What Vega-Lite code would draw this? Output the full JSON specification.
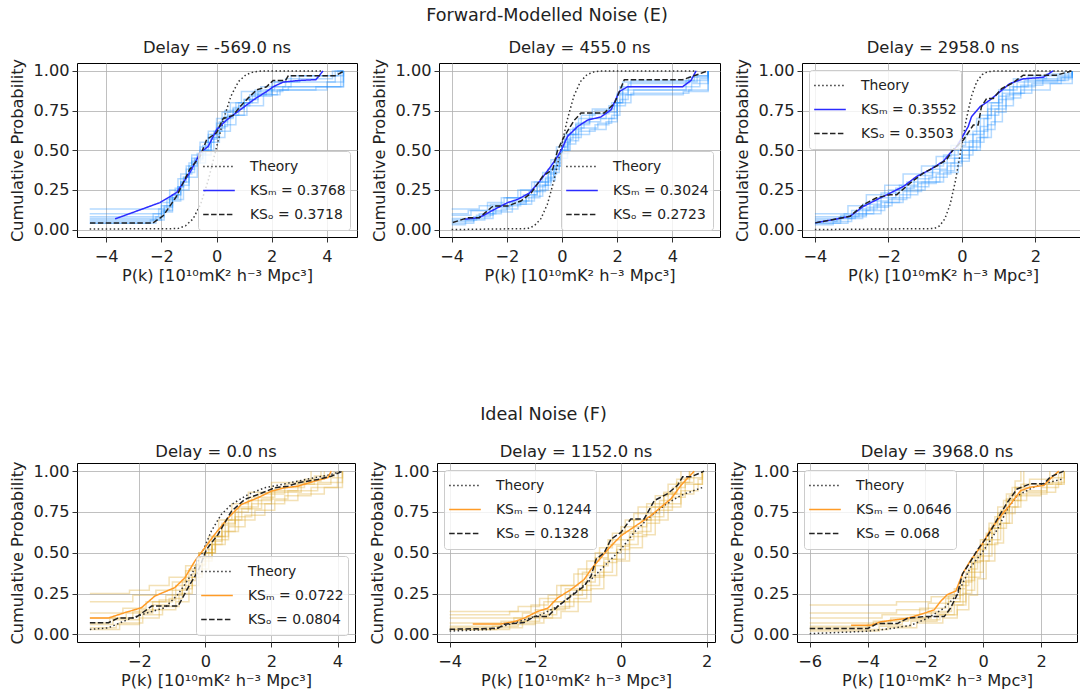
{
"$schema": "https://vega.github.io/schema/vega-lite/v6.json",
"background": "white",
"padding": {"left": 9, "top": 6, "right": 0, "bottom": 0},
"datasets": {
"c": [
{"p":1,"k":"T","x":-4.6,"y":0.003},{"p":1,"k":"T","x":-1.41,"y":0.006},{"p":1,"k":"T","x":-1.13,"y":0.023},{"p":1,"k":"T","x":-0.855,"y":0.067},{"p":1,"k":"T","x":-0.58,"y":0.159},{"p":1,"k":"T","x":-0.305,"y":0.309},{"p":1,"k":"T","x":-0.03,"y":0.5},{"p":1,"k":"T","x":0.245,"y":0.691},{"p":1,"k":"T","x":0.52,"y":0.841},{"p":1,"k":"T","x":0.795,"y":0.933},{"p":1,"k":"T","x":1.07,"y":0.977},{"p":1,"k":"T","x":1.345,"y":0.994},{"p":1,"k":"T","x":1.62,"y":0.999},{"p":1,"k":"T","x":3.8,"y":1.0},
{"p":1,"k":"M","x":-3.68,"y":0.067},{"p":1,"k":"M","x":-2.05,"y":0.17},{"p":1,"k":"M","x":-1.45,"y":0.233},{"p":1,"k":"M","x":-0.97,"y":0.358},{"p":1,"k":"M","x":-0.6,"y":0.483},{"p":1,"k":"M","x":-0.3,"y":0.525},{"p":1,"k":"M","x":0,"y":0.63},{"p":1,"k":"M","x":0.36,"y":0.69},{"p":1,"k":"M","x":0.85,"y":0.754},{"p":1,"k":"M","x":1.33,"y":0.817},{"p":1,"k":"M","x":1.81,"y":0.87},{"p":1,"k":"M","x":2.05,"y":0.9},{"p":1,"k":"M","x":2.42,"y":0.93},{"p":1,"k":"M","x":3.0,"y":0.94},{"p":1,"k":"M","x":3.6,"y":0.945},{"p":1,"k":"M","x":3.86,"y":1.0},
{"p":1,"k":"O","x":-4.59,"y":0.042},{"p":1,"k":"O","x":-2.3,"y":0.042},{"p":1,"k":"O","x":-1.93,"y":0.088},{"p":1,"k":"O","x":-1.45,"y":0.21},{"p":1,"k":"O","x":-0.97,"y":0.38},{"p":1,"k":"O","x":-0.6,"y":0.46},{"p":1,"k":"O","x":-0.36,"y":0.567},{"p":1,"k":"O","x":0,"y":0.61},{"p":1,"k":"O","x":0.24,"y":0.7},{"p":1,"k":"O","x":0.6,"y":0.72},{"p":1,"k":"O","x":0.85,"y":0.775},{"p":1,"k":"O","x":1.15,"y":0.83},{"p":1,"k":"O","x":1.45,"y":0.88},{"p":1,"k":"O","x":1.81,"y":0.9},{"p":1,"k":"O","x":2.05,"y":0.94},{"p":1,"k":"O","x":2.5,"y":0.94},{"p":1,"k":"O","x":2.6,"y":0.97},{"p":1,"k":"O","x":4.3,"y":0.97},{"p":1,"k":"O","x":4.63,"y":1.0},

{"p":2,"k":"T","x":-4,"y":0.0},{"p":2,"k":"T","x":-1.25,"y":0.006},{"p":2,"k":"T","x":-1.01,"y":0.023},{"p":2,"k":"T","x":-0.77,"y":0.067},{"p":2,"k":"T","x":-0.53,"y":0.159},{"p":2,"k":"T","x":-0.29,"y":0.309},{"p":2,"k":"T","x":-0.05,"y":0.5},{"p":2,"k":"T","x":0.19,"y":0.691},{"p":2,"k":"T","x":0.43,"y":0.841},{"p":2,"k":"T","x":0.67,"y":0.933},{"p":2,"k":"T","x":0.91,"y":0.977},{"p":2,"k":"T","x":1.15,"y":0.994},{"p":2,"k":"T","x":1.39,"y":0.999},{"p":2,"k":"T","x":4.9,"y":1.0},
{"p":2,"k":"M","x":-3.54,"y":0.065},{"p":2,"k":"M","x":-3.0,"y":0.075},{"p":2,"k":"M","x":-2.45,"y":0.127},{"p":2,"k":"M","x":-1.97,"y":0.17},{"p":2,"k":"M","x":-1.61,"y":0.19},{"p":2,"k":"M","x":-1.18,"y":0.23},{"p":2,"k":"M","x":-0.76,"y":0.315},{"p":2,"k":"M","x":-0.4,"y":0.4},{"p":2,"k":"M","x":-0.16,"y":0.46},{"p":2,"k":"M","x":0,"y":0.51},{"p":2,"k":"M","x":0.2,"y":0.587},{"p":2,"k":"M","x":0.57,"y":0.65},{"p":2,"k":"M","x":0.93,"y":0.69},{"p":2,"k":"M","x":1.41,"y":0.71},{"p":2,"k":"M","x":1.78,"y":0.755},{"p":2,"k":"M","x":2.08,"y":0.87},{"p":2,"k":"M","x":2.38,"y":0.9},{"p":2,"k":"M","x":4.37,"y":0.9},{"p":2,"k":"M","x":4.68,"y":0.94},{"p":2,"k":"M","x":4.86,"y":1.0},
{"p":2,"k":"O","x":-3.96,"y":0.044},{"p":2,"k":"O","x":-3.42,"y":0.075},{"p":2,"k":"O","x":-3.0,"y":0.075},{"p":2,"k":"O","x":-2.5,"y":0.148},{"p":2,"k":"O","x":-1.97,"y":0.148},{"p":2,"k":"O","x":-1.49,"y":0.18},{"p":2,"k":"O","x":-1.12,"y":0.23},{"p":2,"k":"O","x":-0.7,"y":0.336},{"p":2,"k":"O","x":-0.34,"y":0.378},{"p":2,"k":"O","x":-0.16,"y":0.5},{"p":2,"k":"O","x":0.08,"y":0.587},{"p":2,"k":"O","x":0.45,"y":0.69},{"p":2,"k":"O","x":0.69,"y":0.735},{"p":2,"k":"O","x":1.53,"y":0.735},{"p":2,"k":"O","x":1.9,"y":0.795},{"p":2,"k":"O","x":2.26,"y":0.944},{"p":2,"k":"O","x":4.37,"y":0.944},{"p":2,"k":"O","x":4.68,"y":0.963},{"p":2,"k":"O","x":5.28,"y":1.0},

{"p":3,"k":"T","x":-4,"y":0.0},{"p":3,"k":"T","x":-0.755,"y":0.006},{"p":3,"k":"T","x":-0.61,"y":0.023},{"p":3,"k":"T","x":-0.465,"y":0.067},{"p":3,"k":"T","x":-0.32,"y":0.159},{"p":3,"k":"T","x":-0.175,"y":0.309},{"p":3,"k":"T","x":-0.03,"y":0.5},{"p":3,"k":"T","x":0.115,"y":0.691},{"p":3,"k":"T","x":0.26,"y":0.841},{"p":3,"k":"T","x":0.405,"y":0.933},{"p":3,"k":"T","x":0.55,"y":0.977},{"p":3,"k":"T","x":0.695,"y":0.994},{"p":3,"k":"T","x":0.84,"y":0.999},{"p":3,"k":"T","x":3.0,"y":1.0},
{"p":3,"k":"M","x":-3.99,"y":0.042},{"p":3,"k":"M","x":-3.49,"y":0.063},{"p":3,"k":"M","x":-3.04,"y":0.084},{"p":3,"k":"M","x":-2.68,"y":0.146},{"p":3,"k":"M","x":-2.32,"y":0.188},{"p":3,"k":"M","x":-1.95,"y":0.23},{"p":3,"k":"M","x":-1.59,"y":0.272},{"p":3,"k":"M","x":-1.23,"y":0.335},{"p":3,"k":"M","x":-0.87,"y":0.377},{"p":3,"k":"M","x":-0.51,"y":0.43},{"p":3,"k":"M","x":-0.33,"y":0.48},{"p":3,"k":"M","x":-0.14,"y":0.523},{"p":3,"k":"M","x":0.17,"y":0.649},{"p":3,"k":"M","x":0.26,"y":0.711},{"p":3,"k":"M","x":0.49,"y":0.774},{"p":3,"k":"M","x":0.76,"y":0.816},{"p":3,"k":"M","x":1.03,"y":0.868},{"p":3,"k":"M","x":1.3,"y":0.92},{"p":3,"k":"M","x":1.67,"y":0.95},{"p":3,"k":"M","x":2.21,"y":0.96},{"p":3,"k":"M","x":2.48,"y":1.0},
{"p":3,"k":"O","x":-3.99,"y":0.042},{"p":3,"k":"O","x":-3.04,"y":0.084},{"p":3,"k":"O","x":-2.68,"y":0.157},{"p":3,"k":"O","x":-2.32,"y":0.2},{"p":3,"k":"O","x":-1.95,"y":0.22},{"p":3,"k":"O","x":-1.77,"y":0.22},{"p":3,"k":"O","x":-1.41,"y":0.293},{"p":3,"k":"O","x":-1.05,"y":0.356},{"p":3,"k":"O","x":-0.69,"y":0.4},{"p":3,"k":"O","x":-0.42,"y":0.44},{"p":3,"k":"O","x":-0.24,"y":0.504},{"p":3,"k":"O","x":0.04,"y":0.565},{"p":3,"k":"O","x":0.31,"y":0.659},{"p":3,"k":"O","x":0.44,"y":0.659},{"p":3,"k":"O","x":0.53,"y":0.774},{"p":3,"k":"O","x":0.67,"y":0.826},{"p":3,"k":"O","x":0.85,"y":0.826},{"p":3,"k":"O","x":1.08,"y":0.889},{"p":3,"k":"O","x":1.35,"y":0.92},{"p":3,"k":"O","x":1.67,"y":0.973},{"p":3,"k":"O","x":2.57,"y":0.973},{"p":3,"k":"O","x":2.98,"y":1.0},

{"p":4,"k":"T","x":-3.5,"y":0.03},{"p":4,"k":"T","x":-2.94,"y":0.04},{"p":4,"k":"T","x":-2.24,"y":0.1},{"p":4,"k":"T","x":-1.74,"y":0.133},{"p":4,"k":"T","x":-1.23,"y":0.163},{"p":4,"k":"T","x":-0.83,"y":0.245},{"p":4,"k":"T","x":-0.42,"y":0.367},{"p":4,"k":"T","x":-0.12,"y":0.49},{"p":4,"k":"T","x":0.18,"y":0.633},{"p":4,"k":"T","x":0.48,"y":0.735},{"p":4,"k":"T","x":0.79,"y":0.796},{"p":4,"k":"T","x":1.29,"y":0.857},{"p":4,"k":"T","x":1.79,"y":0.898},{"p":4,"k":"T","x":2.3,"y":0.918},{"p":4,"k":"T","x":2.8,"y":0.939},{"p":4,"k":"T","x":3.31,"y":0.96},{"p":4,"k":"T","x":3.81,"y":0.98},{"p":4,"k":"T","x":4.11,"y":1.0},
{"p":4,"k":"M","x":-3.5,"y":0.1},{"p":4,"k":"M","x":-2.94,"y":0.1},{"p":4,"k":"M","x":-2.44,"y":0.133},{"p":4,"k":"M","x":-1.94,"y":0.163},{"p":4,"k":"M","x":-1.53,"y":0.235},{"p":4,"k":"M","x":-0.93,"y":0.286},{"p":4,"k":"M","x":-0.62,"y":0.347},{"p":4,"k":"M","x":-0.32,"y":0.449},{"p":4,"k":"M","x":-0.02,"y":0.53},{"p":4,"k":"M","x":0.28,"y":0.612},{"p":4,"k":"M","x":0.69,"y":0.714},{"p":4,"k":"M","x":1.09,"y":0.796},{"p":4,"k":"M","x":1.59,"y":0.837},{"p":4,"k":"M","x":2.0,"y":0.878},{"p":4,"k":"M","x":2.4,"y":0.898},{"p":4,"k":"M","x":2.8,"y":0.908},{"p":4,"k":"M","x":3.31,"y":0.939},{"p":4,"k":"M","x":3.71,"y":0.96},{"p":4,"k":"M","x":3.81,"y":1.0},
{"p":4,"k":"O","x":-3.5,"y":0.071},{"p":4,"k":"O","x":-2.94,"y":0.071},{"p":4,"k":"O","x":-2.64,"y":0.1},{"p":4,"k":"O","x":-2.13,"y":0.1},{"p":4,"k":"O","x":-1.63,"y":0.173},{"p":4,"k":"O","x":-0.83,"y":0.173},{"p":4,"k":"O","x":-0.47,"y":0.306},{"p":4,"k":"O","x":-0.22,"y":0.388},{"p":4,"k":"O","x":0.03,"y":0.52},{"p":4,"k":"O","x":0.38,"y":0.612},{"p":4,"k":"O","x":0.79,"y":0.755},{"p":4,"k":"O","x":1.19,"y":0.827},{"p":4,"k":"O","x":1.59,"y":0.857},{"p":4,"k":"O","x":2.1,"y":0.898},{"p":4,"k":"O","x":2.5,"y":0.908},{"p":4,"k":"O","x":2.8,"y":0.929},{"p":4,"k":"O","x":3.4,"y":0.949},{"p":4,"k":"O","x":3.81,"y":0.969},{"p":4,"k":"O","x":4.16,"y":1.0},

{"p":5,"k":"T","x":-4,"y":0.02},{"p":5,"k":"T","x":-3.03,"y":0.03},{"p":5,"k":"T","x":-2.64,"y":0.058},{"p":5,"k":"T","x":-2.26,"y":0.089},{"p":5,"k":"T","x":-1.87,"y":0.12},{"p":5,"k":"T","x":-1.48,"y":0.171},{"p":5,"k":"T","x":-1.09,"y":0.254},{"p":5,"k":"T","x":-0.7,"y":0.336},{"p":5,"k":"T","x":-0.31,"y":0.439},{"p":5,"k":"T","x":0,"y":0.522},{"p":5,"k":"T","x":0.31,"y":0.625},{"p":5,"k":"T","x":0.62,"y":0.707},{"p":5,"k":"T","x":1.01,"y":0.79},{"p":5,"k":"T","x":1.4,"y":0.852},{"p":5,"k":"T","x":1.71,"y":0.882},{"p":5,"k":"T","x":1.94,"y":0.903},
{"p":5,"k":"M","x":-3.46,"y":0.064},{"p":5,"k":"M","x":-2.79,"y":0.064},{"p":5,"k":"M","x":-2.49,"y":0.078},{"p":5,"k":"M","x":-2.26,"y":0.099},{"p":5,"k":"M","x":-1.95,"y":0.14},{"p":5,"k":"M","x":-1.71,"y":0.16},{"p":5,"k":"M","x":-1.48,"y":0.223},{"p":5,"k":"M","x":-1.17,"y":0.274},{"p":5,"k":"M","x":-0.86,"y":0.336},{"p":5,"k":"M","x":-0.7,"y":0.398},{"p":5,"k":"M","x":-0.47,"y":0.47},{"p":5,"k":"M","x":-0.23,"y":0.542},{"p":5,"k":"M","x":0,"y":0.604},{"p":5,"k":"M","x":0.23,"y":0.645},{"p":5,"k":"M","x":0.47,"y":0.687},{"p":5,"k":"M","x":0.7,"y":0.728},{"p":5,"k":"M","x":0.93,"y":0.779},{"p":5,"k":"M","x":1.17,"y":0.831},{"p":5,"k":"M","x":1.4,"y":0.913},{"p":5,"k":"M","x":1.71,"y":1.0},
{"p":5,"k":"O","x":-4,"y":0.031},{"p":5,"k":"O","x":-2.87,"y":0.037},{"p":5,"k":"O","x":-2.72,"y":0.062},{"p":5,"k":"O","x":-2.26,"y":0.072},{"p":5,"k":"O","x":-2.02,"y":0.109},{"p":5,"k":"O","x":-1.71,"y":0.109},{"p":5,"k":"O","x":-1.48,"y":0.171},{"p":5,"k":"O","x":-1.17,"y":0.233},{"p":5,"k":"O","x":-0.86,"y":0.295},{"p":5,"k":"O","x":-0.7,"y":0.357},{"p":5,"k":"O","x":-0.58,"y":0.46},{"p":5,"k":"O","x":-0.39,"y":0.501},{"p":5,"k":"O","x":-0.23,"y":0.584},{"p":5,"k":"O","x":0,"y":0.625},{"p":5,"k":"O","x":0.23,"y":0.707},{"p":5,"k":"O","x":0.54,"y":0.707},{"p":5,"k":"O","x":0.78,"y":0.82},{"p":5,"k":"O","x":1.09,"y":0.862},{"p":5,"k":"O","x":1.32,"y":0.913},{"p":5,"k":"O","x":1.44,"y":0.965},{"p":5,"k":"O","x":1.63,"y":0.965},{"p":5,"k":"O","x":1.94,"y":1.0},

{"p":6,"k":"T","x":-6,"y":0.004},{"p":6,"k":"T","x":-4,"y":0.019},{"p":6,"k":"T","x":-3.19,"y":0.035},{"p":6,"k":"T","x":-2.5,"y":0.056},{"p":6,"k":"T","x":-1.93,"y":0.098},{"p":6,"k":"T","x":-1.35,"y":0.161},{"p":6,"k":"T","x":-0.9,"y":0.244},{"p":6,"k":"T","x":-0.44,"y":0.411},{"p":6,"k":"T","x":0.02,"y":0.516},{"p":6,"k":"T","x":0.48,"y":0.641},{"p":6,"k":"T","x":0.83,"y":0.766},{"p":6,"k":"T","x":1.17,"y":0.85},{"p":6,"k":"T","x":1.75,"y":0.902},{"p":6,"k":"T","x":2.32,"y":0.933},{"p":6,"k":"T","x":2.78,"y":0.954},
{"p":6,"k":"M","x":-4.57,"y":0.056},{"p":6,"k":"M","x":-3.88,"y":0.056},{"p":6,"k":"M","x":-3.54,"y":0.077},{"p":6,"k":"M","x":-3.08,"y":0.088},{"p":6,"k":"M","x":-2.62,"y":0.098},{"p":6,"k":"M","x":-2.05,"y":0.129},{"p":6,"k":"M","x":-1.7,"y":0.15},{"p":6,"k":"M","x":-1.47,"y":0.203},{"p":6,"k":"M","x":-1.24,"y":0.244},{"p":6,"k":"M","x":-0.95,"y":0.265},{"p":6,"k":"M","x":-0.72,"y":0.37},{"p":6,"k":"M","x":-0.44,"y":0.453},{"p":6,"k":"M","x":-0.09,"y":0.537},{"p":6,"k":"M","x":0.25,"y":0.641},{"p":6,"k":"M","x":0.6,"y":0.724},{"p":6,"k":"M","x":0.94,"y":0.797},{"p":6,"k":"M","x":1.29,"y":0.881},{"p":6,"k":"M","x":1.63,"y":0.902},{"p":6,"k":"M","x":2.09,"y":0.912},{"p":6,"k":"M","x":2.32,"y":0.954},{"p":6,"k":"M","x":2.61,"y":1.0},
{"p":6,"k":"O","x":-6,"y":0.035},{"p":6,"k":"O","x":-4,"y":0.035},{"p":6,"k":"O","x":-3.65,"y":0.067},{"p":6,"k":"O","x":-2.96,"y":0.067},{"p":6,"k":"O","x":-2.62,"y":0.098},{"p":6,"k":"O","x":-2.05,"y":0.109},{"p":6,"k":"O","x":-1.35,"y":0.109},{"p":6,"k":"O","x":-1.13,"y":0.161},{"p":6,"k":"O","x":-0.9,"y":0.244},{"p":6,"k":"O","x":-0.72,"y":0.37},{"p":6,"k":"O","x":-0.49,"y":0.432},{"p":6,"k":"O","x":-0.21,"y":0.516},{"p":6,"k":"O","x":0.14,"y":0.599},{"p":6,"k":"O","x":0.48,"y":0.704},{"p":6,"k":"O","x":0.83,"y":0.808},{"p":6,"k":"O","x":1.17,"y":0.891},{"p":6,"k":"O","x":1.63,"y":0.923},{"p":6,"k":"O","x":2.09,"y":0.923},{"p":6,"k":"O","x":2.32,"y":0.965},{"p":6,"k":"O","x":2.78,"y":1.0}
],
"r": [
{"p":1,"r":1,"x":-4.6,"y":0.04},{"p":1,"r":1,"x":-2.2,"y":0.08},{"p":1,"r":1,"x":-1.9,"y":0.15},{"p":1,"r":1,"x":-1.6,"y":0.22},{"p":1,"r":1,"x":-1.3,"y":0.3},{"p":1,"r":1,"x":-1.1,"y":0.38},{"p":1,"r":1,"x":-0.9,"y":0.45},{"p":1,"r":1,"x":-0.6,"y":0.52},{"p":1,"r":1,"x":-0.2,"y":0.6},{"p":1,"r":1,"x":0.1,"y":0.68},{"p":1,"r":1,"x":0.4,"y":0.74},{"p":1,"r":1,"x":0.8,"y":0.8},{"p":1,"r":1,"x":1.3,"y":0.86},{"p":1,"r":1,"x":2.0,"y":0.93},{"p":1,"r":1,"x":4.3,"y":1.0},{"p":1,"r":1,"x":4.6,"y":1.0},
{"p":1,"r":2,"x":-4.6,"y":0.07},{"p":1,"r":2,"x":-2.0,"y":0.12},{"p":1,"r":2,"x":-1.7,"y":0.2},{"p":1,"r":2,"x":-1.4,"y":0.27},{"p":1,"r":2,"x":-1.2,"y":0.33},{"p":1,"r":2,"x":-1.0,"y":0.4},{"p":1,"r":2,"x":-0.7,"y":0.48},{"p":1,"r":2,"x":-0.4,"y":0.55},{"p":1,"r":2,"x":-0.1,"y":0.62},{"p":1,"r":2,"x":0.2,"y":0.7},{"p":1,"r":2,"x":0.6,"y":0.77},{"p":1,"r":2,"x":1.0,"y":0.82},{"p":1,"r":2,"x":1.5,"y":0.87},{"p":1,"r":2,"x":2.4,"y":0.9},{"p":1,"r":2,"x":4.5,"y":1.0},{"p":1,"r":2,"x":4.6,"y":1.0},
{"p":1,"r":3,"x":-4.6,"y":0.1},{"p":1,"r":3,"x":-1.9,"y":0.14},{"p":1,"r":3,"x":-1.6,"y":0.22},{"p":1,"r":3,"x":-1.3,"y":0.3},{"p":1,"r":3,"x":-1.0,"y":0.38},{"p":1,"r":3,"x":-0.8,"y":0.45},{"p":1,"r":3,"x":-0.5,"y":0.53},{"p":1,"r":3,"x":-0.3,"y":0.6},{"p":1,"r":3,"x":0,"y":0.67},{"p":1,"r":3,"x":0.2,"y":0.74},{"p":1,"r":3,"x":0.5,"y":0.8},{"p":1,"r":3,"x":0.9,"y":0.87},{"p":1,"r":3,"x":1.6,"y":0.9},{"p":1,"r":3,"x":2.5,"y":0.95},{"p":1,"r":3,"x":4.2,"y":1.0},{"p":1,"r":3,"x":4.6,"y":1.0},
{"p":1,"r":4,"x":-4.6,"y":0.13},{"p":1,"r":4,"x":-2.0,"y":0.17},{"p":1,"r":4,"x":-1.7,"y":0.25},{"p":1,"r":4,"x":-1.4,"y":0.32},{"p":1,"r":4,"x":-1.1,"y":0.4},{"p":1,"r":4,"x":-0.9,"y":0.47},{"p":1,"r":4,"x":-0.6,"y":0.55},{"p":1,"r":4,"x":-0.3,"y":0.62},{"p":1,"r":4,"x":0,"y":0.7},{"p":1,"r":4,"x":0.3,"y":0.75},{"p":1,"r":4,"x":0.7,"y":0.8},{"p":1,"r":4,"x":1.2,"y":0.85},{"p":1,"r":4,"x":1.8,"y":0.88},{"p":1,"r":4,"x":2.6,"y":0.9},{"p":1,"r":4,"x":4.6,"y":1.0},
{"p":1,"r":5,"x":-4.6,"y":0.05},{"p":1,"r":5,"x":-2.3,"y":0.1},{"p":1,"r":5,"x":-2.0,"y":0.15},{"p":1,"r":5,"x":-1.7,"y":0.2},{"p":1,"r":5,"x":-1.4,"y":0.27},{"p":1,"r":5,"x":-1.2,"y":0.33},{"p":1,"r":5,"x":-1.0,"y":0.42},{"p":1,"r":5,"x":-0.6,"y":0.47},{"p":1,"r":5,"x":-0.2,"y":0.55},{"p":1,"r":5,"x":0.1,"y":0.62},{"p":1,"r":5,"x":0.5,"y":0.72},{"p":1,"r":5,"x":1.0,"y":0.8},{"p":1,"r":5,"x":1.5,"y":0.85},{"p":1,"r":5,"x":2.2,"y":0.88},{"p":1,"r":5,"x":4.0,"y":0.93},{"p":1,"r":5,"x":4.6,"y":1.0},
{"p":1,"r":6,"x":-4.6,"y":0.08},{"p":1,"r":6,"x":-2.1,"y":0.13},{"p":1,"r":6,"x":-1.8,"y":0.19},{"p":1,"r":6,"x":-1.5,"y":0.26},{"p":1,"r":6,"x":-1.3,"y":0.35},{"p":1,"r":6,"x":-0.9,"y":0.43},{"p":1,"r":6,"x":-0.6,"y":0.5},{"p":1,"r":6,"x":-0.3,"y":0.58},{"p":1,"r":6,"x":0.1,"y":0.65},{"p":1,"r":6,"x":0.4,"y":0.72},{"p":1,"r":6,"x":0.8,"y":0.78},{"p":1,"r":6,"x":1.2,"y":0.84},{"p":1,"r":6,"x":2.0,"y":0.9},{"p":1,"r":6,"x":2.7,"y":0.97},{"p":1,"r":6,"x":4.4,"y":1.0},{"p":1,"r":6,"x":4.6,"y":1.0},
{"p":1,"r":7,"x":-4.6,"y":0.04},{"p":1,"r":7,"x":-2.4,"y":0.06},{"p":1,"r":7,"x":-1.9,"y":0.12},{"p":1,"r":7,"x":-1.6,"y":0.18},{"p":1,"r":7,"x":-1.3,"y":0.25},{"p":1,"r":7,"x":-1.0,"y":0.33},{"p":1,"r":7,"x":-0.7,"y":0.42},{"p":1,"r":7,"x":-0.4,"y":0.5},{"p":1,"r":7,"x":-0.1,"y":0.58},{"p":1,"r":7,"x":0.3,"y":0.66},{"p":1,"r":7,"x":0.7,"y":0.72},{"p":1,"r":7,"x":1.1,"y":0.78},{"p":1,"r":7,"x":1.7,"y":0.85},{"p":1,"r":7,"x":2.3,"y":0.88},{"p":1,"r":7,"x":3.6,"y":0.9},{"p":1,"r":7,"x":4.6,"y":1.0},
{"p":1,"r":8,"x":-4.6,"y":0.06},{"p":1,"r":8,"x":-2.0,"y":0.11},{"p":1,"r":8,"x":-1.6,"y":0.19},{"p":1,"r":8,"x":-1.2,"y":0.28},{"p":1,"r":8,"x":-1.0,"y":0.36},{"p":1,"r":8,"x":-0.8,"y":0.44},{"p":1,"r":8,"x":-0.5,"y":0.5},{"p":1,"r":8,"x":-0.2,"y":0.57},{"p":1,"r":8,"x":0,"y":0.64},{"p":1,"r":8,"x":0.3,"y":0.71},{"p":1,"r":8,"x":0.6,"y":0.76},{"p":1,"r":8,"x":1.0,"y":0.82},{"p":1,"r":8,"x":1.4,"y":0.88},{"p":1,"r":8,"x":2.1,"y":0.93},{"p":1,"r":8,"x":3.0,"y":0.97},{"p":1,"r":8,"x":4.6,"y":1.0},

{"p":2,"r":1,"x":-4,"y":0.04},{"p":2,"r":1,"x":-3.2,"y":0.08},{"p":2,"r":1,"x":-2.6,"y":0.12},{"p":2,"r":1,"x":-2,"y":0.15},{"p":2,"r":1,"x":-1.5,"y":0.18},{"p":2,"r":1,"x":-1.0,"y":0.24},{"p":2,"r":1,"x":-0.6,"y":0.32},{"p":2,"r":1,"x":-0.3,"y":0.42},{"p":2,"r":1,"x":0,"y":0.52},{"p":2,"r":1,"x":0.2,"y":0.6},{"p":2,"r":1,"x":0.5,"y":0.66},{"p":2,"r":1,"x":1.0,"y":0.7},{"p":2,"r":1,"x":1.6,"y":0.74},{"p":2,"r":1,"x":2.0,"y":0.86},{"p":2,"r":1,"x":2.4,"y":0.92},{"p":2,"r":1,"x":4.6,"y":0.96},{"p":2,"r":1,"x":5.3,"y":1.0},
{"p":2,"r":2,"x":-4,"y":0.07},{"p":2,"r":2,"x":-3.0,"y":0.1},{"p":2,"r":2,"x":-2.4,"y":0.15},{"p":2,"r":2,"x":-1.8,"y":0.18},{"p":2,"r":2,"x":-1.2,"y":0.24},{"p":2,"r":2,"x":-0.8,"y":0.3},{"p":2,"r":2,"x":-0.4,"y":0.38},{"p":2,"r":2,"x":-0.1,"y":0.48},{"p":2,"r":2,"x":0.1,"y":0.57},{"p":2,"r":2,"x":0.4,"y":0.64},{"p":2,"r":2,"x":0.8,"y":0.68},{"p":2,"r":2,"x":1.4,"y":0.7},{"p":2,"r":2,"x":1.9,"y":0.8},{"p":2,"r":2,"x":2.2,"y":0.88},{"p":2,"r":2,"x":4.5,"y":0.9},{"p":2,"r":2,"x":5.0,"y":0.95},{"p":2,"r":2,"x":5.3,"y":1.0},
{"p":2,"r":3,"x":-4,"y":0.1},{"p":2,"r":3,"x":-3.4,"y":0.12},{"p":2,"r":3,"x":-2.7,"y":0.17},{"p":2,"r":3,"x":-2.1,"y":0.2},{"p":2,"r":3,"x":-1.5,"y":0.25},{"p":2,"r":3,"x":-1.0,"y":0.3},{"p":2,"r":3,"x":-0.5,"y":0.38},{"p":2,"r":3,"x":-0.2,"y":0.46},{"p":2,"r":3,"x":0,"y":0.55},{"p":2,"r":3,"x":0.3,"y":0.63},{"p":2,"r":3,"x":0.7,"y":0.72},{"p":2,"r":3,"x":1.2,"y":0.75},{"p":2,"r":3,"x":1.8,"y":0.8},{"p":2,"r":3,"x":2.1,"y":0.9},{"p":2,"r":3,"x":2.5,"y":0.94},{"p":2,"r":3,"x":4.8,"y":0.97},{"p":2,"r":3,"x":5.3,"y":1.0},
{"p":2,"r":4,"x":-4,"y":0.13},{"p":2,"r":4,"x":-3.0,"y":0.15},{"p":2,"r":4,"x":-2.2,"y":0.2},{"p":2,"r":4,"x":-1.6,"y":0.25},{"p":2,"r":4,"x":-1.1,"y":0.3},{"p":2,"r":4,"x":-0.7,"y":0.36},{"p":2,"r":4,"x":-0.4,"y":0.44},{"p":2,"r":4,"x":-0.2,"y":0.52},{"p":2,"r":4,"x":0.1,"y":0.6},{"p":2,"r":4,"x":0.5,"y":0.67},{"p":2,"r":4,"x":1.0,"y":0.73},{"p":2,"r":4,"x":1.7,"y":0.78},{"p":2,"r":4,"x":2.0,"y":0.85},{"p":2,"r":4,"x":2.6,"y":0.88},{"p":2,"r":4,"x":4.7,"y":0.92},{"p":2,"r":4,"x":5.3,"y":1.0},
{"p":2,"r":5,"x":-4,"y":0.03},{"p":2,"r":5,"x":-3.5,"y":0.06},{"p":2,"r":5,"x":-2.8,"y":0.1},{"p":2,"r":5,"x":-2.2,"y":0.13},{"p":2,"r":5,"x":-1.6,"y":0.16},{"p":2,"r":5,"x":-1.1,"y":0.21},{"p":2,"r":5,"x":-0.7,"y":0.28},{"p":2,"r":5,"x":-0.4,"y":0.36},{"p":2,"r":5,"x":-0.1,"y":0.45},{"p":2,"r":5,"x":0.2,"y":0.54},{"p":2,"r":5,"x":0.5,"y":0.6},{"p":2,"r":5,"x":1.0,"y":0.63},{"p":2,"r":5,"x":1.6,"y":0.68},{"p":2,"r":5,"x":2.0,"y":0.78},{"p":2,"r":5,"x":2.3,"y":0.85},{"p":2,"r":5,"x":4.4,"y":0.87},{"p":2,"r":5,"x":5.3,"y":1.0},
{"p":2,"r":6,"x":-4,"y":0.06},{"p":2,"r":6,"x":-3.1,"y":0.09},{"p":2,"r":6,"x":-2.5,"y":0.14},{"p":2,"r":6,"x":-1.9,"y":0.17},{"p":2,"r":6,"x":-1.3,"y":0.22},{"p":2,"r":6,"x":-0.9,"y":0.28},{"p":2,"r":6,"x":-0.5,"y":0.35},{"p":2,"r":6,"x":-0.2,"y":0.44},{"p":2,"r":6,"x":0,"y":0.5},{"p":2,"r":6,"x":0.3,"y":0.58},{"p":2,"r":6,"x":0.7,"y":0.64},{"p":2,"r":6,"x":1.3,"y":0.67},{"p":2,"r":6,"x":1.8,"y":0.72},{"p":2,"r":6,"x":2.1,"y":0.82},{"p":2,"r":6,"x":2.4,"y":0.9},{"p":2,"r":6,"x":4.5,"y":0.94},{"p":2,"r":6,"x":5.3,"y":1.0},
{"p":2,"r":7,"x":-4,"y":0.09},{"p":2,"r":7,"x":-3.3,"y":0.12},{"p":2,"r":7,"x":-2.6,"y":0.16},{"p":2,"r":7,"x":-2.0,"y":0.2},{"p":2,"r":7,"x":-1.4,"y":0.22},{"p":2,"r":7,"x":-0.9,"y":0.27},{"p":2,"r":7,"x":-0.6,"y":0.33},{"p":2,"r":7,"x":-0.3,"y":0.4},{"p":2,"r":7,"x":-0.05,"y":0.5},{"p":2,"r":7,"x":0.2,"y":0.6},{"p":2,"r":7,"x":0.6,"y":0.7},{"p":2,"r":7,"x":1.1,"y":0.76},{"p":2,"r":7,"x":1.9,"y":0.8},{"p":2,"r":7,"x":2.2,"y":0.93},{"p":2,"r":7,"x":4.9,"y":0.97},{"p":2,"r":7,"x":5.3,"y":1.0},
{"p":2,"r":8,"x":-4,"y":0.05},{"p":2,"r":8,"x":-3.2,"y":0.07},{"p":2,"r":8,"x":-2.5,"y":0.11},{"p":2,"r":8,"x":-1.8,"y":0.16},{"p":2,"r":8,"x":-1.3,"y":0.2},{"p":2,"r":8,"x":-0.8,"y":0.25},{"p":2,"r":8,"x":-0.5,"y":0.31},{"p":2,"r":8,"x":-0.25,"y":0.4},{"p":2,"r":8,"x":0,"y":0.48},{"p":2,"r":8,"x":0.25,"y":0.56},{"p":2,"r":8,"x":0.6,"y":0.62},{"p":2,"r":8,"x":1.2,"y":0.66},{"p":2,"r":8,"x":1.7,"y":0.7},{"p":2,"r":8,"x":2.0,"y":0.8},{"p":2,"r":8,"x":2.5,"y":0.86},{"p":2,"r":8,"x":4.6,"y":0.88},{"p":2,"r":8,"x":5.3,"y":1.0},

{"p":3,"r":1,"x":-4,"y":0.04},{"p":3,"r":1,"x":-3.3,"y":0.08},{"p":3,"r":1,"x":-2.8,"y":0.13},{"p":3,"r":1,"x":-2.3,"y":0.2},{"p":3,"r":1,"x":-1.8,"y":0.26},{"p":3,"r":1,"x":-1.3,"y":0.32},{"p":3,"r":1,"x":-0.8,"y":0.38},{"p":3,"r":1,"x":-0.4,"y":0.45},{"p":3,"r":1,"x":0,"y":0.52},{"p":3,"r":1,"x":0.3,"y":0.6},{"p":3,"r":1,"x":0.6,"y":0.7},{"p":3,"r":1,"x":0.8,"y":0.8},{"p":3,"r":1,"x":1.1,"y":0.88},{"p":3,"r":1,"x":1.5,"y":0.93},{"p":3,"r":1,"x":2.6,"y":0.96},{"p":3,"r":1,"x":3.0,"y":1.0},
{"p":3,"r":2,"x":-4,"y":0.07},{"p":3,"r":2,"x":-3.0,"y":0.12},{"p":3,"r":2,"x":-2.5,"y":0.18},{"p":3,"r":2,"x":-2.0,"y":0.25},{"p":3,"r":2,"x":-1.5,"y":0.3},{"p":3,"r":2,"x":-1.0,"y":0.36},{"p":3,"r":2,"x":-0.6,"y":0.42},{"p":3,"r":2,"x":-0.2,"y":0.5},{"p":3,"r":2,"x":0.2,"y":0.56},{"p":3,"r":2,"x":0.5,"y":0.65},{"p":3,"r":2,"x":0.7,"y":0.76},{"p":3,"r":2,"x":1.0,"y":0.84},{"p":3,"r":2,"x":1.3,"y":0.9},{"p":3,"r":2,"x":1.8,"y":0.97},{"p":3,"r":2,"x":3.0,"y":1.0},
{"p":3,"r":3,"x":-4,"y":0.03},{"p":3,"r":3,"x":-3.5,"y":0.05},{"p":3,"r":3,"x":-3.0,"y":0.08},{"p":3,"r":3,"x":-2.6,"y":0.12},{"p":3,"r":3,"x":-2.1,"y":0.17},{"p":3,"r":3,"x":-1.6,"y":0.24},{"p":3,"r":3,"x":-1.1,"y":0.3},{"p":3,"r":3,"x":-0.6,"y":0.37},{"p":3,"r":3,"x":-0.2,"y":0.45},{"p":3,"r":3,"x":0.2,"y":0.52},{"p":3,"r":3,"x":0.5,"y":0.62},{"p":3,"r":3,"x":0.7,"y":0.72},{"p":3,"r":3,"x":1.0,"y":0.82},{"p":3,"r":3,"x":1.4,"y":0.9},{"p":3,"r":3,"x":2.0,"y":0.94},{"p":3,"r":3,"x":2.9,"y":1.0},
{"p":3,"r":4,"x":-4,"y":0.1},{"p":3,"r":4,"x":-3.1,"y":0.15},{"p":3,"r":4,"x":-2.6,"y":0.22},{"p":3,"r":4,"x":-2.1,"y":0.28},{"p":3,"r":4,"x":-1.6,"y":0.35},{"p":3,"r":4,"x":-1.1,"y":0.4},{"p":3,"r":4,"x":-0.7,"y":0.46},{"p":3,"r":4,"x":-0.3,"y":0.53},{"p":3,"r":4,"x":0.1,"y":0.6},{"p":3,"r":4,"x":0.4,"y":0.7},{"p":3,"r":4,"x":0.7,"y":0.8},{"p":3,"r":4,"x":1.0,"y":0.88},{"p":3,"r":4,"x":1.4,"y":0.95},{"p":3,"r":4,"x":2.3,"y":0.98},{"p":3,"r":4,"x":3.0,"y":1.0},
{"p":3,"r":5,"x":-4,"y":0.05},{"p":3,"r":5,"x":-3.4,"y":0.07},{"p":3,"r":5,"x":-2.9,"y":0.1},{"p":3,"r":5,"x":-2.4,"y":0.15},{"p":3,"r":5,"x":-1.9,"y":0.2},{"p":3,"r":5,"x":-1.4,"y":0.27},{"p":3,"r":5,"x":-0.9,"y":0.33},{"p":3,"r":5,"x":-0.4,"y":0.4},{"p":3,"r":5,"x":0,"y":0.47},{"p":3,"r":5,"x":0.3,"y":0.55},{"p":3,"r":5,"x":0.6,"y":0.63},{"p":3,"r":5,"x":0.9,"y":0.74},{"p":3,"r":5,"x":1.2,"y":0.83},{"p":3,"r":5,"x":1.6,"y":0.88},{"p":3,"r":5,"x":2.4,"y":0.92},{"p":3,"r":5,"x":3.0,"y":1.0},
{"p":3,"r":6,"x":-4,"y":0.08},{"p":3,"r":6,"x":-3.2,"y":0.1},{"p":3,"r":6,"x":-2.7,"y":0.16},{"p":3,"r":6,"x":-2.2,"y":0.23},{"p":3,"r":6,"x":-1.7,"y":0.28},{"p":3,"r":6,"x":-1.2,"y":0.34},{"p":3,"r":6,"x":-0.8,"y":0.4},{"p":3,"r":6,"x":-0.5,"y":0.47},{"p":3,"r":6,"x":-0.1,"y":0.55},{"p":3,"r":6,"x":0.3,"y":0.62},{"p":3,"r":6,"x":0.5,"y":0.72},{"p":3,"r":6,"x":0.8,"y":0.78},{"p":3,"r":6,"x":1.1,"y":0.86},{"p":3,"r":6,"x":1.7,"y":0.94},{"p":3,"r":6,"x":2.8,"y":1.0},
{"p":3,"r":7,"x":-4,"y":0.06},{"p":3,"r":7,"x":-3.3,"y":0.09},{"p":3,"r":7,"x":-2.6,"y":0.14},{"p":3,"r":7,"x":-2.0,"y":0.19},{"p":3,"r":7,"x":-1.5,"y":0.25},{"p":3,"r":7,"x":-1.0,"y":0.3},{"p":3,"r":7,"x":-0.5,"y":0.36},{"p":3,"r":7,"x":-0.1,"y":0.43},{"p":3,"r":7,"x":0.2,"y":0.5},{"p":3,"r":7,"x":0.5,"y":0.58},{"p":3,"r":7,"x":0.8,"y":0.68},{"p":3,"r":7,"x":1.1,"y":0.78},{"p":3,"r":7,"x":1.4,"y":0.86},{"p":3,"r":7,"x":1.9,"y":0.92},{"p":3,"r":7,"x":2.7,"y":0.96},{"p":3,"r":7,"x":3.0,"y":1.0},
{"p":3,"r":8,"x":-4,"y":0.04},{"p":3,"r":8,"x":-3.1,"y":0.07},{"p":3,"r":8,"x":-2.7,"y":0.1},{"p":3,"r":8,"x":-2.2,"y":0.17},{"p":3,"r":8,"x":-1.7,"y":0.22},{"p":3,"r":8,"x":-1.2,"y":0.29},{"p":3,"r":8,"x":-0.7,"y":0.35},{"p":3,"r":8,"x":-0.3,"y":0.42},{"p":3,"r":8,"x":0,"y":0.5},{"p":3,"r":8,"x":0.4,"y":0.58},{"p":3,"r":8,"x":0.7,"y":0.66},{"p":3,"r":8,"x":0.9,"y":0.76},{"p":3,"r":8,"x":1.2,"y":0.85},{"p":3,"r":8,"x":1.6,"y":0.91},{"p":3,"r":8,"x":2.2,"y":0.95},{"p":3,"r":8,"x":3.0,"y":1.0},

{"p":4,"r":1,"x":-3.5,"y":0.03},{"p":4,"r":1,"x":-2.6,"y":0.07},{"p":4,"r":1,"x":-1.9,"y":0.12},{"p":4,"r":1,"x":-1.3,"y":0.17},{"p":4,"r":1,"x":-0.8,"y":0.25},{"p":4,"r":1,"x":-0.4,"y":0.35},{"p":4,"r":1,"x":-0.1,"y":0.45},{"p":4,"r":1,"x":0.2,"y":0.57},{"p":4,"r":1,"x":0.5,"y":0.67},{"p":4,"r":1,"x":0.9,"y":0.77},{"p":4,"r":1,"x":1.4,"y":0.84},{"p":4,"r":1,"x":2.1,"y":0.9},{"p":4,"r":1,"x":3.0,"y":0.95},{"p":4,"r":1,"x":3.6,"y":1.0},
{"p":4,"r":2,"x":-3.5,"y":0.1},{"p":4,"r":2,"x":-2.4,"y":0.13},{"p":4,"r":2,"x":-1.6,"y":0.2},{"p":4,"r":2,"x":-1.0,"y":0.27},{"p":4,"r":2,"x":-0.6,"y":0.35},{"p":4,"r":2,"x":-0.3,"y":0.42},{"p":4,"r":2,"x":0,"y":0.52},{"p":4,"r":2,"x":0.3,"y":0.6},{"p":4,"r":2,"x":0.7,"y":0.7},{"p":4,"r":2,"x":1.1,"y":0.77},{"p":4,"r":2,"x":1.7,"y":0.83},{"p":4,"r":2,"x":2.5,"y":0.88},{"p":4,"r":2,"x":3.4,"y":0.93},{"p":4,"r":2,"x":4.15,"y":1.0},
{"p":4,"r":3,"x":-3.5,"y":0.06},{"p":4,"r":3,"x":-2.8,"y":0.09},{"p":4,"r":3,"x":-2.0,"y":0.15},{"p":4,"r":3,"x":-1.4,"y":0.21},{"p":4,"r":3,"x":-0.9,"y":0.3},{"p":4,"r":3,"x":-0.5,"y":0.4},{"p":4,"r":3,"x":-0.2,"y":0.5},{"p":4,"r":3,"x":0.1,"y":0.6},{"p":4,"r":3,"x":0.4,"y":0.7},{"p":4,"r":3,"x":0.8,"y":0.8},{"p":4,"r":3,"x":1.3,"y":0.87},{"p":4,"r":3,"x":2.0,"y":0.93},{"p":4,"r":3,"x":3.2,"y":1.0},
{"p":4,"r":4,"x":-3.5,"y":0.2},{"p":4,"r":4,"x":-2.2,"y":0.24},{"p":4,"r":4,"x":-1.5,"y":0.27},{"p":4,"r":4,"x":-1.0,"y":0.32},{"p":4,"r":4,"x":-0.6,"y":0.39},{"p":4,"r":4,"x":-0.2,"y":0.47},{"p":4,"r":4,"x":0.2,"y":0.55},{"p":4,"r":4,"x":0.6,"y":0.63},{"p":4,"r":4,"x":1.0,"y":0.7},{"p":4,"r":4,"x":1.5,"y":0.76},{"p":4,"r":4,"x":2.1,"y":0.82},{"p":4,"r":4,"x":2.8,"y":0.86},{"p":4,"r":4,"x":3.6,"y":0.9},{"p":4,"r":4,"x":4.15,"y":1.0},
{"p":4,"r":5,"x":-3.5,"y":0.04},{"p":4,"r":5,"x":-2.7,"y":0.06},{"p":4,"r":5,"x":-2.0,"y":0.1},{"p":4,"r":5,"x":-1.4,"y":0.15},{"p":4,"r":5,"x":-0.9,"y":0.2},{"p":4,"r":5,"x":-0.5,"y":0.3},{"p":4,"r":5,"x":-0.2,"y":0.4},{"p":4,"r":5,"x":0.1,"y":0.5},{"p":4,"r":5,"x":0.3,"y":0.6},{"p":4,"r":5,"x":0.6,"y":0.7},{"p":4,"r":5,"x":1.0,"y":0.78},{"p":4,"r":5,"x":1.6,"y":0.86},{"p":4,"r":5,"x":2.4,"y":0.92},{"p":4,"r":5,"x":3.3,"y":0.97},{"p":4,"r":5,"x":3.9,"y":1.0},
{"p":4,"r":6,"x":-3.5,"y":0.13},{"p":4,"r":6,"x":-2.5,"y":0.16},{"p":4,"r":6,"x":-1.8,"y":0.2},{"p":4,"r":6,"x":-1.2,"y":0.24},{"p":4,"r":6,"x":-0.7,"y":0.33},{"p":4,"r":6,"x":-0.3,"y":0.43},{"p":4,"r":6,"x":0,"y":0.5},{"p":4,"r":6,"x":0.3,"y":0.58},{"p":4,"r":6,"x":0.7,"y":0.66},{"p":4,"r":6,"x":1.2,"y":0.73},{"p":4,"r":6,"x":1.8,"y":0.8},{"p":4,"r":6,"x":2.4,"y":0.85},{"p":4,"r":6,"x":3.2,"y":0.9},{"p":4,"r":6,"x":4.0,"y":1.0},
{"p":4,"r":7,"x":-3.5,"y":0.07},{"p":4,"r":7,"x":-2.9,"y":0.1},{"p":4,"r":7,"x":-2.2,"y":0.14},{"p":4,"r":7,"x":-1.6,"y":0.18},{"p":4,"r":7,"x":-1.1,"y":0.22},{"p":4,"r":7,"x":-0.7,"y":0.28},{"p":4,"r":7,"x":-0.4,"y":0.37},{"p":4,"r":7,"x":-0.1,"y":0.47},{"p":4,"r":7,"x":0.2,"y":0.55},{"p":4,"r":7,"x":0.5,"y":0.63},{"p":4,"r":7,"x":0.9,"y":0.72},{"p":4,"r":7,"x":1.4,"y":0.8},{"p":4,"r":7,"x":2.0,"y":0.88},{"p":4,"r":7,"x":2.8,"y":0.94},{"p":4,"r":7,"x":3.5,"y":1.0},
{"p":4,"r":8,"x":-3.5,"y":0.25},{"p":4,"r":8,"x":-2.3,"y":0.27},{"p":4,"r":8,"x":-1.7,"y":0.3},{"p":4,"r":8,"x":-1.1,"y":0.35},{"p":4,"r":8,"x":-0.6,"y":0.42},{"p":4,"r":8,"x":-0.2,"y":0.5},{"p":4,"r":8,"x":0.2,"y":0.6},{"p":4,"r":8,"x":0.5,"y":0.68},{"p":4,"r":8,"x":0.9,"y":0.75},{"p":4,"r":8,"x":1.3,"y":0.82},{"p":4,"r":8,"x":2.0,"y":0.87},{"p":4,"r":8,"x":2.9,"y":0.92},{"p":4,"r":8,"x":3.8,"y":0.96},{"p":4,"r":8,"x":4.15,"y":1.0},

{"p":5,"r":1,"x":-4,"y":0.03},{"p":5,"r":1,"x":-2.6,"y":0.06},{"p":5,"r":1,"x":-2.0,"y":0.1},{"p":5,"r":1,"x":-1.6,"y":0.16},{"p":5,"r":1,"x":-1.2,"y":0.24},{"p":5,"r":1,"x":-0.9,"y":0.32},{"p":5,"r":1,"x":-0.6,"y":0.42},{"p":5,"r":1,"x":-0.3,"y":0.5},{"p":5,"r":1,"x":0,"y":0.58},{"p":5,"r":1,"x":0.3,"y":0.66},{"p":5,"r":1,"x":0.6,"y":0.74},{"p":5,"r":1,"x":0.9,"y":0.82},{"p":5,"r":1,"x":1.2,"y":0.9},{"p":5,"r":1,"x":1.5,"y":0.96},{"p":5,"r":1,"x":1.9,"y":1.0},
{"p":5,"r":2,"x":-4,"y":0.1},{"p":5,"r":2,"x":-2.3,"y":0.13},{"p":5,"r":2,"x":-1.8,"y":0.2},{"p":5,"r":2,"x":-1.3,"y":0.28},{"p":5,"r":2,"x":-0.9,"y":0.38},{"p":5,"r":2,"x":-0.6,"y":0.47},{"p":5,"r":2,"x":-0.3,"y":0.55},{"p":5,"r":2,"x":0,"y":0.63},{"p":5,"r":2,"x":0.3,"y":0.7},{"p":5,"r":2,"x":0.7,"y":0.78},{"p":5,"r":2,"x":1.0,"y":0.86},{"p":5,"r":2,"x":1.3,"y":0.95},{"p":5,"r":2,"x":1.6,"y":1.0},
{"p":5,"r":3,"x":-4,"y":0.05},{"p":5,"r":3,"x":-2.8,"y":0.08},{"p":5,"r":3,"x":-2.2,"y":0.11},{"p":5,"r":3,"x":-1.7,"y":0.15},{"p":5,"r":3,"x":-1.3,"y":0.2},{"p":5,"r":3,"x":-1.0,"y":0.27},{"p":5,"r":3,"x":-0.7,"y":0.35},{"p":5,"r":3,"x":-0.4,"y":0.44},{"p":5,"r":3,"x":-0.1,"y":0.52},{"p":5,"r":3,"x":0.2,"y":0.6},{"p":5,"r":3,"x":0.6,"y":0.68},{"p":5,"r":3,"x":0.9,"y":0.76},{"p":5,"r":3,"x":1.2,"y":0.84},{"p":5,"r":3,"x":1.5,"y":0.92},{"p":5,"r":3,"x":1.9,"y":1.0},
{"p":5,"r":4,"x":-4,"y":0.14},{"p":5,"r":4,"x":-2.4,"y":0.17},{"p":5,"r":4,"x":-1.9,"y":0.22},{"p":5,"r":4,"x":-1.5,"y":0.3},{"p":5,"r":4,"x":-1.1,"y":0.37},{"p":5,"r":4,"x":-0.8,"y":0.45},{"p":5,"r":4,"x":-0.5,"y":0.53},{"p":5,"r":4,"x":-0.2,"y":0.62},{"p":5,"r":4,"x":0.1,"y":0.7},{"p":5,"r":4,"x":0.4,"y":0.78},{"p":5,"r":4,"x":0.8,"y":0.85},{"p":5,"r":4,"x":1.1,"y":0.92},{"p":5,"r":4,"x":1.4,"y":1.0},
{"p":5,"r":5,"x":-4,"y":0.04},{"p":5,"r":5,"x":-3.0,"y":0.05},{"p":5,"r":5,"x":-2.4,"y":0.08},{"p":5,"r":5,"x":-1.9,"y":0.12},{"p":5,"r":5,"x":-1.5,"y":0.17},{"p":5,"r":5,"x":-1.1,"y":0.22},{"p":5,"r":5,"x":-0.8,"y":0.3},{"p":5,"r":5,"x":-0.5,"y":0.38},{"p":5,"r":5,"x":-0.2,"y":0.46},{"p":5,"r":5,"x":0.1,"y":0.55},{"p":5,"r":5,"x":0.4,"y":0.63},{"p":5,"r":5,"x":0.7,"y":0.72},{"p":5,"r":5,"x":1.0,"y":0.8},{"p":5,"r":5,"x":1.4,"y":0.88},{"p":5,"r":5,"x":1.8,"y":0.95},{"p":5,"r":5,"x":1.9,"y":1.0},
{"p":5,"r":6,"x":-4,"y":0.07},{"p":5,"r":6,"x":-2.5,"y":0.1},{"p":5,"r":6,"x":-2.0,"y":0.15},{"p":5,"r":6,"x":-1.6,"y":0.2},{"p":5,"r":6,"x":-1.2,"y":0.27},{"p":5,"r":6,"x":-0.8,"y":0.36},{"p":5,"r":6,"x":-0.4,"y":0.46},{"p":5,"r":6,"x":-0.1,"y":0.54},{"p":5,"r":6,"x":0.2,"y":0.62},{"p":5,"r":6,"x":0.5,"y":0.7},{"p":5,"r":6,"x":0.8,"y":0.78},{"p":5,"r":6,"x":1.1,"y":0.86},{"p":5,"r":6,"x":1.4,"y":0.93},{"p":5,"r":6,"x":1.7,"y":1.0},
{"p":5,"r":7,"x":-4,"y":0.12},{"p":5,"r":7,"x":-2.6,"y":0.14},{"p":5,"r":7,"x":-2.1,"y":0.18},{"p":5,"r":7,"x":-1.7,"y":0.24},{"p":5,"r":7,"x":-1.4,"y":0.3},{"p":5,"r":7,"x":-1.0,"y":0.4},{"p":5,"r":7,"x":-0.6,"y":0.5},{"p":5,"r":7,"x":-0.3,"y":0.58},{"p":5,"r":7,"x":0,"y":0.66},{"p":5,"r":7,"x":0.3,"y":0.74},{"p":5,"r":7,"x":0.6,"y":0.8},{"p":5,"r":7,"x":1.0,"y":0.87},{"p":5,"r":7,"x":1.3,"y":0.93},{"p":5,"r":7,"x":1.6,"y":1.0},
{"p":5,"r":8,"x":-4,"y":0.03},{"p":5,"r":8,"x":-2.9,"y":0.04},{"p":5,"r":8,"x":-2.3,"y":0.07},{"p":5,"r":8,"x":-1.8,"y":0.1},{"p":5,"r":8,"x":-1.4,"y":0.14},{"p":5,"r":8,"x":-1.0,"y":0.2},{"p":5,"r":8,"x":-0.7,"y":0.28},{"p":5,"r":8,"x":-0.4,"y":0.36},{"p":5,"r":8,"x":-0.1,"y":0.45},{"p":5,"r":8,"x":0.2,"y":0.53},{"p":5,"r":8,"x":0.5,"y":0.61},{"p":5,"r":8,"x":0.8,"y":0.7},{"p":5,"r":8,"x":1.1,"y":0.78},{"p":5,"r":8,"x":1.4,"y":0.86},{"p":5,"r":8,"x":1.7,"y":0.92},{"p":5,"r":8,"x":1.9,"y":1.0},

{"p":6,"r":1,"x":-6,"y":0.02},{"p":6,"r":1,"x":-3.6,"y":0.05},{"p":6,"r":1,"x":-2.5,"y":0.08},{"p":6,"r":1,"x":-1.6,"y":0.12},{"p":6,"r":1,"x":-1.0,"y":0.2},{"p":6,"r":1,"x":-0.6,"y":0.33},{"p":6,"r":1,"x":-0.3,"y":0.45},{"p":6,"r":1,"x":0,"y":0.55},{"p":6,"r":1,"x":0.3,"y":0.65},{"p":6,"r":1,"x":0.6,"y":0.76},{"p":6,"r":1,"x":0.9,"y":0.85},{"p":6,"r":1,"x":1.3,"y":0.92},{"p":6,"r":1,"x":2.4,"y":0.96},{"p":6,"r":1,"x":2.8,"y":1.0},
{"p":6,"r":2,"x":-6,"y":0.07},{"p":6,"r":2,"x":-3.2,"y":0.1},{"p":6,"r":2,"x":-2.0,"y":0.13},{"p":6,"r":2,"x":-1.2,"y":0.2},{"p":6,"r":2,"x":-0.8,"y":0.3},{"p":6,"r":2,"x":-0.5,"y":0.4},{"p":6,"r":2,"x":-0.2,"y":0.52},{"p":6,"r":2,"x":0.1,"y":0.62},{"p":6,"r":2,"x":0.4,"y":0.72},{"p":6,"r":2,"x":0.7,"y":0.82},{"p":6,"r":2,"x":1.0,"y":0.9},{"p":6,"r":2,"x":1.4,"y":1.0},
{"p":6,"r":3,"x":-6,"y":0.18},{"p":6,"r":3,"x":-3.0,"y":0.2},{"p":6,"r":3,"x":-1.8,"y":0.23},{"p":6,"r":3,"x":-1.0,"y":0.28},{"p":6,"r":3,"x":-0.6,"y":0.38},{"p":6,"r":3,"x":-0.3,"y":0.48},{"p":6,"r":3,"x":0,"y":0.58},{"p":6,"r":3,"x":0.3,"y":0.67},{"p":6,"r":3,"x":0.6,"y":0.75},{"p":6,"r":3,"x":0.9,"y":0.82},{"p":6,"r":3,"x":1.3,"y":0.88},{"p":6,"r":3,"x":2.2,"y":0.92},{"p":6,"r":3,"x":2.7,"y":1.0},
{"p":6,"r":4,"x":-6,"y":0.04},{"p":6,"r":4,"x":-4.0,"y":0.06},{"p":6,"r":4,"x":-2.8,"y":0.09},{"p":6,"r":4,"x":-1.5,"y":0.12},{"p":6,"r":4,"x":-0.9,"y":0.18},{"p":6,"r":4,"x":-0.6,"y":0.27},{"p":6,"r":4,"x":-0.3,"y":0.38},{"p":6,"r":4,"x":0,"y":0.48},{"p":6,"r":4,"x":0.3,"y":0.58},{"p":6,"r":4,"x":0.6,"y":0.68},{"p":6,"r":4,"x":0.9,"y":0.78},{"p":6,"r":4,"x":1.2,"y":0.85},{"p":6,"r":4,"x":2.0,"y":0.9},{"p":6,"r":4,"x":2.6,"y":1.0},
{"p":6,"r":5,"x":-6,"y":0.1},{"p":6,"r":5,"x":-3.5,"y":0.12},{"p":6,"r":5,"x":-2.2,"y":0.16},{"p":6,"r":5,"x":-1.3,"y":0.22},{"p":6,"r":5,"x":-0.8,"y":0.32},{"p":6,"r":5,"x":-0.4,"y":0.44},{"p":6,"r":5,"x":-0.1,"y":0.55},{"p":6,"r":5,"x":0.2,"y":0.65},{"p":6,"r":5,"x":0.5,"y":0.74},{"p":6,"r":5,"x":0.8,"y":0.83},{"p":6,"r":5,"x":1.1,"y":0.9},{"p":6,"r":5,"x":1.6,"y":0.95},{"p":6,"r":5,"x":2.3,"y":1.0},
{"p":6,"r":6,"x":-6,"y":0.05},{"p":6,"r":6,"x":-3.8,"y":0.08},{"p":6,"r":6,"x":-2.6,"y":0.1},{"p":6,"r":6,"x":-1.8,"y":0.14},{"p":6,"r":6,"x":-1.1,"y":0.18},{"p":6,"r":6,"x":-0.7,"y":0.25},{"p":6,"r":6,"x":-0.4,"y":0.35},{"p":6,"r":6,"x":-0.1,"y":0.45},{"p":6,"r":6,"x":0.2,"y":0.55},{"p":6,"r":6,"x":0.5,"y":0.65},{"p":6,"r":6,"x":0.8,"y":0.74},{"p":6,"r":6,"x":1.1,"y":0.82},{"p":6,"r":6,"x":1.5,"y":0.87},{"p":6,"r":6,"x":2.5,"y":0.92},{"p":6,"r":6,"x":2.8,"y":1.0},
{"p":6,"r":7,"x":-6,"y":0.03},{"p":6,"r":7,"x":-3.3,"y":0.04},{"p":6,"r":7,"x":-2.3,"y":0.07},{"p":6,"r":7,"x":-1.4,"y":0.1},{"p":6,"r":7,"x":-0.9,"y":0.15},{"p":6,"r":7,"x":-0.5,"y":0.24},{"p":6,"r":7,"x":-0.2,"y":0.34},{"p":6,"r":7,"x":0.1,"y":0.45},{"p":6,"r":7,"x":0.4,"y":0.56},{"p":6,"r":7,"x":0.7,"y":0.68},{"p":6,"r":7,"x":1.0,"y":0.78},{"p":6,"r":7,"x":1.3,"y":0.86},{"p":6,"r":7,"x":2.2,"y":0.93},{"p":6,"r":7,"x":2.8,"y":1.0},
{"p":6,"r":8,"x":-6,"y":0.13},{"p":6,"r":8,"x":-3.0,"y":0.15},{"p":6,"r":8,"x":-1.9,"y":0.19},{"p":6,"r":8,"x":-1.2,"y":0.24},{"p":6,"r":8,"x":-0.7,"y":0.35},{"p":6,"r":8,"x":-0.4,"y":0.47},{"p":6,"r":8,"x":-0.1,"y":0.58},{"p":6,"r":8,"x":0.2,"y":0.68},{"p":6,"r":8,"x":0.5,"y":0.78},{"p":6,"r":8,"x":0.8,"y":0.86},{"p":6,"r":8,"x":1.1,"y":0.94},{"p":6,"r":8,"x":1.3,"y":1.0}
]
},
"config": {
"font": "DejaVu Sans",
"view": {"stroke": "#000000", "strokeWidth": 1},
"axis": {"grid": true, "gridColor": "#b0b0b0", "gridWidth": 0.8, "domain": false, "tickColor": "#000000", "tickSize": 5, "tickWidth": 0.8, "labelFontSize": 16.2, "labelColor": "#222222", "labelPadding": 3, "labelFlush": false, "titleFontSize": 16.2, "titleFontWeight": "normal", "titleColor": "#222222"},
"axisX": {"titlePadding": 3, "labelPadding": 6},
"axisY": {"titlePadding": 7},
"title": {"fontSize": 16.4, "fontWeight": "normal", "color": "#222222", "offset": 2},
"legend": {"symbolType": "stroke", "symbolSize": 1000, "symbolStrokeWidth": 1.5, "labelFontSize": 13.9, "labelColor": "#222222", "fillColor": "rgba(255,255,255,0.8)", "strokeColor": "#cccccc", "cornerRadius": 3, "padding": 4, "clipHeight": 23, "rowPadding": 1, "offset": 7, "labelOffset": 14, "labelLimit": 300}
},
"spacing": 122,
"resolve": {"scale": {"x": "independent", "y": "independent", "stroke": "independent", "strokeDash": "independent"}, "legend": {"stroke": "independent", "strokeDash": "independent"}},
"vconcat": [
{
"title": {"text": "Forward-Modelled Noise (E)", "anchor": "middle", "frame": "bounds", "offset": 15, "fontSize": 17.6},
"spacing": 13,
"resolve": {"scale": {"x": "independent", "y": "independent", "stroke": "independent", "strokeDash": "independent"}, "legend": {"stroke": "independent", "strokeDash": "independent"}},
"hconcat": [
{
"width": 280, "height": 174, "title": "Delay = -569.0 ns",
"layer": [
{"data": {"name": "r"}, "transform": [{"filter": "datum.p == 1"}],
 "mark": {"type": "line", "interpolate": "step-after", "color": "#1f8fff", "opacity": 0.33, "strokeWidth": 1.5},
 "encoding": {
  "x": {"field": "x", "type": "quantitative", "scale": {"domain": [-5.06, 5.09], "nice": false, "zero": false}, "axis": {"values": [-4, -2, 0, 2, 4], "title": "P(k) [10¹⁰mK² h⁻³ Mpc³]"}},
  "y": {"field": "y", "type": "quantitative", "scale": {"domain": [-0.047, 1.05], "nice": false, "zero": false}, "axis": {"values": [0, 0.25, 0.5, 0.75, 1], "format": ".2f", "title": "Cumulative Probability"}},
  "detail": {"field": "r", "type": "nominal"}}},
{"data": {"name": "c"}, "transform": [{"filter": "datum.p == 1"}],
 "mark": {"type": "line", "strokeWidth": 1.5},
 "encoding": {
  "x": {"field": "x", "type": "quantitative"},
  "y": {"field": "y", "type": "quantitative"},
  "stroke": {"field": "k", "type": "nominal", "scale": {"domain": ["T", "M", "O"], "range": ["#333333", "#2b2bff", "#222222"]}, "legend": {"title": null, "orient": "bottom-right", "labelExpr": "datum.value == 'T' ? 'Theory' : datum.value == 'M' ? 'KSₘ = 0.3768' : 'KSₒ = 0.3718'"}},
  "strokeDash": {"field": "k", "type": "nominal", "scale": {"domain": ["T", "M", "O"], "range": [[1.5, 2.5], [1, 0], [5.5, 2.4]]}, "legend": {"title": null, "orient": "bottom-right", "labelExpr": "datum.value == 'T' ? 'Theory' : datum.value == 'M' ? 'KSₘ = 0.3768' : 'KSₒ = 0.3718'"}}}}
]
},
{
"width": 281, "height": 174, "title": "Delay = 455.0 ns",
"layer": [
{"data": {"name": "r"}, "transform": [{"filter": "datum.p == 2"}],
 "mark": {"type": "line", "interpolate": "step-after", "color": "#1f8fff", "opacity": 0.33, "strokeWidth": 1.5},
 "encoding": {
  "x": {"field": "x", "type": "quantitative", "scale": {"domain": [-4.46, 5.73], "nice": false, "zero": false}, "axis": {"values": [-4, -2, 0, 2, 4], "title": "P(k) [10¹⁰mK² h⁻³ Mpc³]"}},
  "y": {"field": "y", "type": "quantitative", "scale": {"domain": [-0.047, 1.05], "nice": false, "zero": false}, "axis": {"values": [0, 0.25, 0.5, 0.75, 1], "format": ".2f", "title": "Cumulative Probability"}},
  "detail": {"field": "r", "type": "nominal"}}},
{"data": {"name": "c"}, "transform": [{"filter": "datum.p == 2"}],
 "mark": {"type": "line", "strokeWidth": 1.5},
 "encoding": {
  "x": {"field": "x", "type": "quantitative"},
  "y": {"field": "y", "type": "quantitative"},
  "stroke": {"field": "k", "type": "nominal", "scale": {"domain": ["T", "M", "O"], "range": ["#333333", "#2b2bff", "#222222"]}, "legend": {"title": null, "orient": "bottom-right", "labelExpr": "datum.value == 'T' ? 'Theory' : datum.value == 'M' ? 'KSₘ = 0.3024' : 'KSₒ = 0.2723'"}},
  "strokeDash": {"field": "k", "type": "nominal", "scale": {"domain": ["T", "M", "O"], "range": [[1.5, 2.5], [1, 0], [5.5, 2.4]]}, "legend": {"title": null, "orient": "bottom-right", "labelExpr": "datum.value == 'T' ? 'Theory' : datum.value == 'M' ? 'KSₘ = 0.3024' : 'KSₒ = 0.2723'"}}}}
]
},
{
"width": 282, "height": 174, "title": "Delay = 2958.0 ns",
"layer": [
{"data": {"name": "r"}, "transform": [{"filter": "datum.p == 3"}],
 "mark": {"type": "line", "interpolate": "step-after", "color": "#1f8fff", "opacity": 0.33, "strokeWidth": 1.5},
 "encoding": {
  "x": {"field": "x", "type": "quantitative", "scale": {"domain": [-4.35, 3.32], "nice": false, "zero": false}, "axis": {"values": [-4, -2, 0, 2], "title": "P(k) [10¹⁰mK² h⁻³ Mpc³]"}},
  "y": {"field": "y", "type": "quantitative", "scale": {"domain": [-0.047, 1.05], "nice": false, "zero": false}, "axis": {"values": [0, 0.25, 0.5, 0.75, 1], "format": ".2f", "title": "Cumulative Probability"}},
  "detail": {"field": "r", "type": "nominal"}}},
{"data": {"name": "c"}, "transform": [{"filter": "datum.p == 3"}],
 "mark": {"type": "line", "strokeWidth": 1.5},
 "encoding": {
  "x": {"field": "x", "type": "quantitative"},
  "y": {"field": "y", "type": "quantitative"},
  "stroke": {"field": "k", "type": "nominal", "scale": {"domain": ["T", "M", "O"], "range": ["#333333", "#2b2bff", "#222222"]}, "legend": {"title": null, "orient": "top-left", "labelExpr": "datum.value == 'T' ? 'Theory' : datum.value == 'M' ? 'KSₘ = 0.3552' : 'KSₒ = 0.3503'"}},
  "strokeDash": {"field": "k", "type": "nominal", "scale": {"domain": ["T", "M", "O"], "range": [[1.5, 2.5], [1, 0], [5.5, 2.4]]}, "legend": {"title": null, "orient": "top-left", "labelExpr": "datum.value == 'T' ? 'Theory' : datum.value == 'M' ? 'KSₘ = 0.3552' : 'KSₒ = 0.3503'"}}}}
]
}
]
},
{
"title": {"text": "Ideal Noise (F)", "anchor": "middle", "frame": "bounds", "offset": 19, "fontSize": 17.6},
"spacing": 13,
"resolve": {"scale": {"x": "independent", "y": "independent", "stroke": "independent", "strokeDash": "independent"}, "legend": {"stroke": "independent", "strokeDash": "independent"}},
"hconcat": [
{
"width": 278, "height": 179, "title": {"text": "Delay = 0.0 ns", "offset": 1},
"layer": [
{"data": {"name": "r"}, "transform": [{"filter": "datum.p == 4"}],
 "mark": {"type": "line", "interpolate": "step-after", "color": "#daa520", "opacity": 0.33, "strokeWidth": 1.5},
 "encoding": {
  "x": {"field": "x", "type": "quantitative", "scale": {"domain": [-3.89, 4.53], "nice": false, "zero": false}, "axis": {"values": [-2, 0, 2, 4], "title": "P(k) [10¹⁰mK² h⁻³ Mpc³]"}},
  "y": {"field": "y", "type": "quantitative", "scale": {"domain": [-0.047, 1.05], "nice": false, "zero": false}, "axis": {"values": [0, 0.25, 0.5, 0.75, 1], "format": ".2f", "title": "Cumulative Probability"}},
  "detail": {"field": "r", "type": "nominal"}}},
{"data": {"name": "c"}, "transform": [{"filter": "datum.p == 4"}],
 "mark": {"type": "line", "strokeWidth": 1.5},
 "encoding": {
  "x": {"field": "x", "type": "quantitative"},
  "y": {"field": "y", "type": "quantitative"},
  "stroke": {"field": "k", "type": "nominal", "scale": {"domain": ["T", "M", "O"], "range": ["#333333", "#ff9b26", "#222222"]}, "legend": {"title": null, "orient": "bottom-right", "labelExpr": "datum.value == 'T' ? 'Theory' : datum.value == 'M' ? 'KSₘ = 0.0722' : 'KSₒ = 0.0804'"}},
  "strokeDash": {"field": "k", "type": "nominal", "scale": {"domain": ["T", "M", "O"], "range": [[1.5, 2.5], [1, 0], [5.5, 2.4]]}, "legend": {"title": null, "orient": "bottom-right", "labelExpr": "datum.value == 'T' ? 'Theory' : datum.value == 'M' ? 'KSₘ = 0.0722' : 'KSₒ = 0.0804'"}}}}
]
},
{
"width": 278, "height": 179, "title": {"text": "Delay = 1152.0 ns", "offset": 1},
"layer": [
{"data": {"name": "r"}, "transform": [{"filter": "datum.p == 5"}],
 "mark": {"type": "line", "interpolate": "step-after", "color": "#daa520", "opacity": 0.33, "strokeWidth": 1.5},
 "encoding": {
  "x": {"field": "x", "type": "quantitative", "scale": {"domain": [-4.295, 2.195], "nice": false, "zero": false}, "axis": {"values": [-4, -2, 0, 2], "title": "P(k) [10¹⁰mK² h⁻³ Mpc³]"}},
  "y": {"field": "y", "type": "quantitative", "scale": {"domain": [-0.047, 1.05], "nice": false, "zero": false}, "axis": {"values": [0, 0.25, 0.5, 0.75, 1], "format": ".2f", "title": "Cumulative Probability"}},
  "detail": {"field": "r", "type": "nominal"}}},
{"data": {"name": "c"}, "transform": [{"filter": "datum.p == 5"}],
 "mark": {"type": "line", "strokeWidth": 1.5},
 "encoding": {
  "x": {"field": "x", "type": "quantitative"},
  "y": {"field": "y", "type": "quantitative"},
  "stroke": {"field": "k", "type": "nominal", "scale": {"domain": ["T", "M", "O"], "range": ["#333333", "#ff9b26", "#222222"]}, "legend": {"title": null, "orient": "top-left", "labelExpr": "datum.value == 'T' ? 'Theory' : datum.value == 'M' ? 'KSₘ = 0.1244' : 'KSₒ = 0.1328'"}},
  "strokeDash": {"field": "k", "type": "nominal", "scale": {"domain": ["T", "M", "O"], "range": [[1.5, 2.5], [1, 0], [5.5, 2.4]]}, "legend": {"title": null, "orient": "top-left", "labelExpr": "datum.value == 'T' ? 'Theory' : datum.value == 'M' ? 'KSₘ = 0.1244' : 'KSₒ = 0.1328'"}}}}
]
},
{
"width": 280, "height": 179, "title": {"text": "Delay = 3968.0 ns", "offset": 1},
"layer": [
{"data": {"name": "r"}, "transform": [{"filter": "datum.p == 6"}],
 "mark": {"type": "line", "interpolate": "step-after", "color": "#daa520", "opacity": 0.33, "strokeWidth": 1.5},
 "encoding": {
  "x": {"field": "x", "type": "quantitative", "scale": {"domain": [-6.44, 3.24], "nice": false, "zero": false}, "axis": {"values": [-6, -4, -2, 0, 2], "title": "P(k) [10¹⁰mK² h⁻³ Mpc³]"}},
  "y": {"field": "y", "type": "quantitative", "scale": {"domain": [-0.047, 1.05], "nice": false, "zero": false}, "axis": {"values": [0, 0.25, 0.5, 0.75, 1], "format": ".2f", "title": "Cumulative Probability"}},
  "detail": {"field": "r", "type": "nominal"}}},
{"data": {"name": "c"}, "transform": [{"filter": "datum.p == 6"}],
 "mark": {"type": "line", "strokeWidth": 1.5},
 "encoding": {
  "x": {"field": "x", "type": "quantitative"},
  "y": {"field": "y", "type": "quantitative"},
  "stroke": {"field": "k", "type": "nominal", "scale": {"domain": ["T", "M", "O"], "range": ["#333333", "#ff9b26", "#222222"]}, "legend": {"title": null, "orient": "top-left", "labelExpr": "datum.value == 'T' ? 'Theory' : datum.value == 'M' ? 'KSₘ = 0.0646' : 'KSₒ = 0.068'"}},
  "strokeDash": {"field": "k", "type": "nominal", "scale": {"domain": ["T", "M", "O"], "range": [[1.5, 2.5], [1, 0], [5.5, 2.4]]}, "legend": {"title": null, "orient": "top-left", "labelExpr": "datum.value == 'T' ? 'Theory' : datum.value == 'M' ? 'KSₘ = 0.0646' : 'KSₒ = 0.068'"}}}}
]
}
]
}
]
}
